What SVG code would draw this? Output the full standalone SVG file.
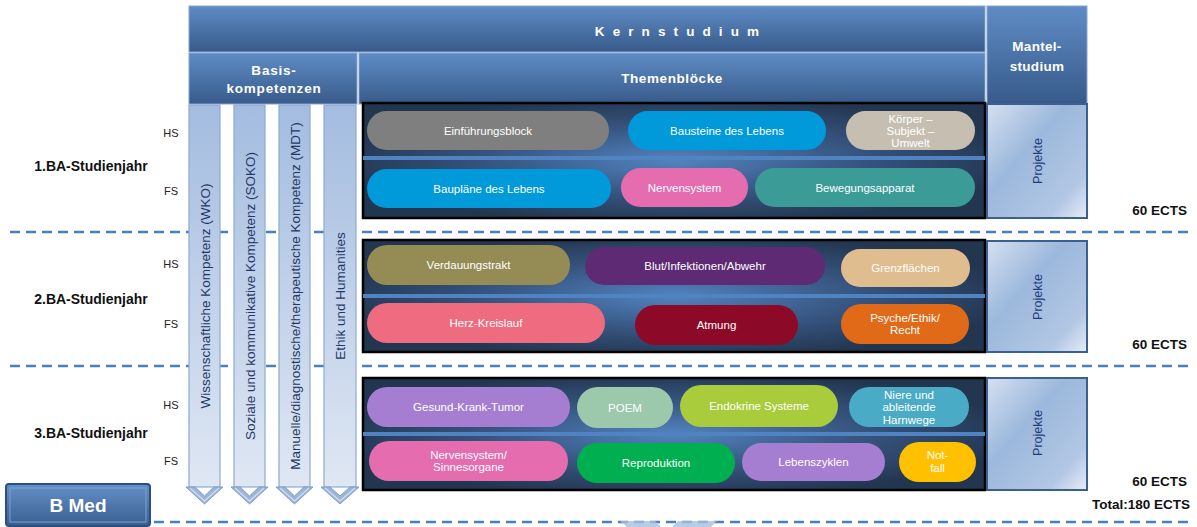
<svg xmlns="http://www.w3.org/2000/svg" width="1197" height="527" viewBox="0 0 1197 527">
<defs>
<linearGradient id="gHdr" x1="0" y1="0" x2="0" y2="1">
<stop offset="0" stop-color="#5f8cc5"/><stop offset="1" stop-color="#375a8a"/>
</linearGradient>
<radialGradient id="gBlk" cx="0.5" cy="0.5" r="0.55">
<stop offset="0" stop-color="#5283c0"/><stop offset="0.55" stop-color="#36547f"/><stop offset="1" stop-color="#233650"/>
</radialGradient>
<linearGradient id="gCol" x1="0" y1="0" x2="0" y2="1">
<stop offset="0" stop-color="#a3bce0"/><stop offset="1" stop-color="#dfe7f3"/>
</linearGradient>
<linearGradient id="gProj" x1="0" y1="0" x2="1" y2="1">
<stop offset="0" stop-color="#d5e0f0"/><stop offset="0.4" stop-color="#9cb8dc"/><stop offset="0.8" stop-color="#b2c7e4"/><stop offset="1" stop-color="#e6edf7"/>
</linearGradient>
<linearGradient id="gBmed" x1="0" y1="0" x2="0" y2="1">
<stop offset="0" stop-color="#6490c8"/><stop offset="1" stop-color="#3a5e91"/>
</linearGradient>
<style>
.hdr{fill:url(#gHdr);stroke:#88a5cf;stroke-width:1}
.blk{fill:url(#gBlk);stroke:#000;stroke-width:2.5}
.sep{stroke:#4f83c2;stroke-width:4}
.col{fill:url(#gCol);stroke:#8eabd2;stroke-width:1.2}
.chev{fill:#9cb4d8;stroke:#7f9ecb;stroke-width:1}
.chevi{fill:none;stroke:#cddaec;stroke-width:1.5}
.proj{fill:url(#gProj);stroke:#3b5f8f;stroke-width:2}
.dash{fill:none;stroke:#4a7fc0;stroke-width:2.5;stroke-dasharray:10 6}
.pt{font-family:"Liberation Sans",Arial,sans-serif;font-size:11.5px;fill:#fff;text-anchor:middle}
.ht{font-family:"Liberation Sans",Arial,sans-serif;font-size:13.5px;font-weight:bold;fill:#fff;text-anchor:middle}
.ct{font-family:"Liberation Sans",Arial,sans-serif;font-size:13.5px;fill:#1f3864;text-anchor:middle}
.pj{font-family:"Liberation Sans",Arial,sans-serif;font-size:12.5px;fill:#1f3f7a;text-anchor:middle}
.yr{font-family:"Liberation Sans",Arial,sans-serif;font-size:14px;font-weight:bold;fill:#111;text-anchor:middle}
.sm{font-family:"Liberation Sans",Arial,sans-serif;font-size:11px;fill:#222;text-anchor:middle}
.ec{font-family:"Liberation Sans",Arial,sans-serif;font-size:13.5px;font-weight:bold;fill:#111;text-anchor:end}
</style>
</defs>
<rect width="1197" height="527" fill="#fff"/>

<g id="separators">
<line class="dash" x1="10" y1="232" x2="1190" y2="232"/>
<line class="dash" x1="10" y1="366" x2="1190" y2="366"/>
<line class="dash" x1="10" y1="522" x2="1190" y2="522"/>
<polygon points="620,521 655,521 661,527 627,527" fill="#a9bfde" opacity="0.8"/>
<polygon points="678,521 717,521 711,527 672,527" fill="#a9bfde" opacity="0.8"/>
</g>

<g id="header">
<rect class="hdr" x="189" y="6" width="796" height="46"/>
<text class="ht" x="681" y="36" letter-spacing="8.1">Kernstudium</text>
<rect class="hdr" x="189" y="53" width="168" height="51"/>
<text class="ht" x="274" y="75" letter-spacing="0.8">Basis-</text>
<text class="ht" x="274" y="93" letter-spacing="0.8">kompetenzen</text>
<rect class="hdr" x="359" y="53" width="626" height="51"/>
<text class="ht" x="672" y="83" letter-spacing="0.6">Themenblöcke</text>
<rect class="hdr" x="987" y="6" width="100" height="98"/>
<text class="ht" x="1037" y="51" letter-spacing="0.3">Mantel-</text>
<text class="ht" x="1037" y="71" letter-spacing="0.3">studium</text>
</g>

<g id="col-wko">
<rect class="col" x="189" y="105" width="31" height="382"/>
<polygon class="chev" points="186,487 204.5,504 223,487 214,487 204.5,496 195,487"/>
<polyline class="chevi" points="190,488 204.5,501 219,488"/>
<text class="ct" transform="translate(210,296) rotate(-90)">Wissenschaftliche Kompetenz (WKO)</text>
</g>
<g id="col-soko">
<rect class="col" x="234" y="105" width="31" height="382"/>
<polygon class="chev" points="231,487 249.5,504 268,487 259,487 249.5,496 240,487"/>
<polyline class="chevi" points="235,488 249.5,501 264,488"/>
<text class="ct" transform="translate(255,296) rotate(-90)">Soziale und kommunikative Kompetenz (SOKO)</text>
</g>
<g id="col-mdt">
<rect class="col" x="279" y="105" width="31" height="382"/>
<polygon class="chev" points="276,487 294.5,504 313,487 304,487 294.5,496 285,487"/>
<polyline class="chevi" points="280,488 294.5,501 309,488"/>
<text class="ct" transform="translate(300,296) rotate(-90)">Manuelle/diagnostische/therapeutische Kompetenz (MDT)</text>
</g>
<g id="col-ethik">
<rect class="col" x="324" y="105" width="32" height="382"/>
<polygon class="chev" points="321,487 340,504 359,487 350,487 340,496 330,487"/>
<polyline class="chevi" points="325,488 340,501 355,488"/>
<text class="ct" transform="translate(345,296) rotate(-90)">Ethik und Humanities</text>
</g>

<g id="labels">
<text class="yr" x="91" y="171">1.BA-Studienjahr</text>
<text class="yr" x="91" y="304">2.BA-Studienjahr</text>
<text class="yr" x="91" y="438">3.BA-Studienjahr</text>
<text class="sm" x="171" y="137">HS</text>
<text class="sm" x="171" y="195">FS</text>
<text class="sm" x="171" y="268">HS</text>
<text class="sm" x="171" y="328">FS</text>
<text class="sm" x="171" y="409">HS</text>
<text class="sm" x="171" y="465">FS</text>
<text class="ec" x="1187" y="215">60 ECTS</text>
<text class="ec" x="1187" y="349">60 ECTS</text>
<text class="ec" x="1187" y="486">60 ECTS</text>
<text class="ec" x="1190" y="509">Total:180 ECTS</text>
</g>

<g id="block1">
<rect class="blk" x="363" y="103" width="622" height="115"/>
<line class="sep" x1="363" y1="158" x2="985" y2="158"/>
<rect x="367" y="111" width="242" height="39" rx="19.5" fill="#7f7f7f"/>
<text class="pt" x="488" y="135">Einführungsblock</text>
<rect x="628" y="111" width="198" height="39" rx="19.5" fill="#0099d9"/>
<text class="pt" x="727" y="135">Bausteine des Lebens</text>
<rect x="846" y="111" width="129" height="39" rx="19.5" fill="#c6bfb1"/>
<text class="pt" x="910.5" y="123">Körper –</text>
<text class="pt" x="910.5" y="135">Subjekt –</text>
<text class="pt" x="910.5" y="147">Umwelt</text>
<rect x="367" y="169" width="244" height="39" rx="19.5" fill="#0099d9"/>
<text class="pt" x="489" y="193">Baupläne des Lebens</text>
<rect x="621" y="168" width="127" height="39" rx="19.5" fill="#e56caf"/>
<text class="pt" x="684.5" y="192">Nervensystem</text>
<rect x="755" y="168" width="220" height="39" rx="19.5" fill="#3b9b96"/>
<text class="pt" x="865" y="192">Bewegungsapparat</text>
</g>

<g id="block2">
<rect class="blk" x="363" y="240" width="622" height="112"/>
<line class="sep" x1="363" y1="296" x2="985" y2="296"/>
<rect x="367" y="245" width="203" height="40" rx="20" fill="#958b54"/>
<text class="pt" x="468.5" y="269">Verdauungstrakt</text>
<rect x="585" y="247" width="240" height="38" rx="19" fill="#5d2a73"/>
<text class="pt" x="705" y="270">Blut/Infektionen/Abwehr</text>
<rect x="841" y="249" width="129" height="38" rx="19" fill="#e0bd8e"/>
<text class="pt" x="905.5" y="272">Grenzflächen</text>
<rect x="367" y="303" width="238" height="40" rx="20" fill="#ef6b80"/>
<text class="pt" x="486" y="327">Herz-Kreislauf</text>
<rect x="635" y="305" width="163" height="40" rx="20" fill="#8c0a28"/>
<text class="pt" x="716.5" y="329">Atmung</text>
<rect x="841" y="304" width="128" height="40" rx="20" fill="#e06a17"/>
<text class="pt" x="905" y="322">Psyche/Ethik/</text>
<text class="pt" x="905" y="334">Recht</text>
</g>

<g id="block3">
<rect class="blk" x="363" y="378" width="622" height="112"/>
<line class="sep" x1="363" y1="434" x2="985" y2="434"/>
<rect x="367" y="387" width="203" height="40" rx="20" fill="#a57ed1"/>
<text class="pt" x="468.5" y="411">Gesund-Krank-Tumor</text>
<rect x="577" y="387" width="96" height="41" rx="20.5" fill="#9cc8ac"/>
<text class="pt" x="625" y="411.5">POEM</text>
<rect x="680" y="385" width="158" height="42" rx="21" fill="#a9cc3c"/>
<text class="pt" x="759" y="410">Endokrine Systeme</text>
<rect x="849" y="387" width="120" height="40" rx="20" fill="#4aabc6"/>
<text class="pt" x="909" y="399">Niere und</text>
<text class="pt" x="909" y="411">ableitende</text>
<text class="pt" x="909" y="424">Harnwege</text>
<rect x="369" y="441" width="199" height="40" rx="20" fill="#e56caf"/>
<text class="pt" x="468.5" y="459">Nervensystem/</text>
<text class="pt" x="468.5" y="471">Sinnesorgane</text>
<rect x="577" y="443" width="158" height="40" rx="20" fill="#00b050"/>
<text class="pt" x="656" y="467">Reproduktion</text>
<rect x="742" y="443" width="143" height="38" rx="19" fill="#a57ed1"/>
<text class="pt" x="813.5" y="466">Lebenszyklen</text>
<rect x="899" y="442" width="77" height="40" rx="20" fill="#ffc000"/>
<text class="pt" x="937.5" y="459">Not-</text>
<text class="pt" x="937.5" y="472">fall</text>
</g>

<g id="projekte">
<rect class="proj" x="987" y="104" width="100" height="114"/>
<text class="pj" transform="translate(1041.5,161) rotate(-90)">Projekte</text>
<rect class="proj" x="987" y="241" width="100" height="111"/>
<text class="pj" transform="translate(1041.5,297) rotate(-90)">Projekte</text>
<rect class="proj" x="987" y="378" width="100" height="112"/>
<text class="pj" transform="translate(1041.5,433) rotate(-90)">Projekte</text>
</g>

<g id="bmed">
<rect x="6" y="484" width="144" height="42" rx="3" fill="url(#gBmed)" stroke="#2d4f80" stroke-width="2"/>
<rect x="10" y="488" width="136" height="34" fill="none" stroke="#7fa0cf" stroke-width="1"/>
<text x="78" y="512" font-family="'Liberation Sans',Arial,sans-serif" font-size="19" font-weight="bold" fill="#fff" text-anchor="middle">B Med</text>
</g>
</svg>
